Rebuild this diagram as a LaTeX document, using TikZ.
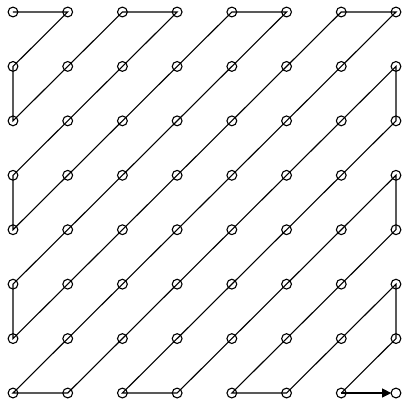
\documentclass[tikz,border=0pt]{standalone}
\usetikzlibrary{arrows.meta}
\begin{document}
\begin{tikzpicture}[x=54.71pt,y=-54.43pt,
  pt/.style={circle,draw,line width=1.1pt,minimum size=9.8pt,inner sep=0pt},
  zz/.style={line width=1.1pt,line join=miter},
  fin/.style={line width=1.1pt,-{Triangle[length=9pt,width=9pt]},shorten >=4.8pt}]
\useasboundingbox (-13pt,12pt) rectangle (396pt,-393pt);
\foreach \i in {0,...,7}{\foreach \j in {0,...,7}{
  \node[pt] (n\i\j) at (\i,\j) {};}}
\draw[zz] (n00.center)--(n10.center)--(n01.center)--(n02.center)--(n20.center)--(n30.center)
 --(n03.center)--(n04.center)--(n40.center)--(n50.center)--(n05.center)--(n06.center)
 --(n60.center)--(n70.center)--(n07.center)--(n17.center)--(n71.center)--(n72.center)
 --(n27.center)--(n37.center)--(n73.center)--(n74.center)--(n47.center)--(n57.center)
 --(n75.center)--(n76.center)--(n67.center);
\draw[fin] (n67.center)--(n77.center);
\end{tikzpicture}
\end{document}
